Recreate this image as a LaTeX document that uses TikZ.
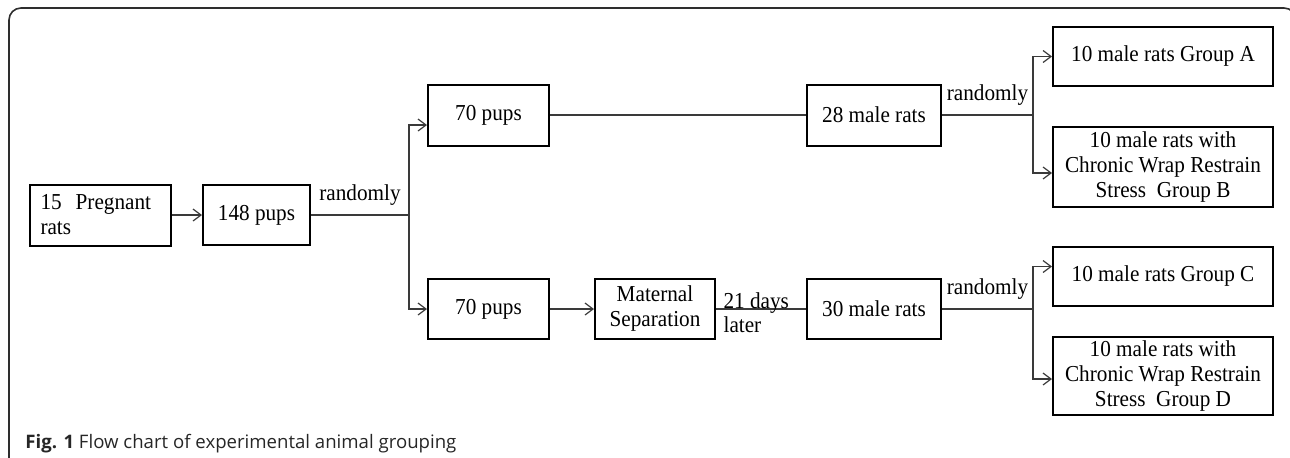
\documentclass[tikz,border=0pt]{standalone}
\usepackage{fontspec}
\setmainfont{Liberation Serif}
\newfontfamily\boxfont[FakeStretch=0.93]{Liberation Serif}
\newfontfamily\capfont{Open Sans}
\usepackage{tikz}
\usetikzlibrary{arrows.meta, positioning, calc}
\definecolor{linegray}{HTML}{3A3A3A}
\definecolor{framegray}{HTML}{2E2E2E}

\begin{document}
\begin{tikzpicture}[x=0.5pt,y=-0.5pt,>={Straight Barb[length=4pt,width=6pt]},node distance=2cm,
	box/.style={rectangle,draw,line width=1pt,align=center,inner sep=2pt,font=\boxfont\fontsize{11.4}{12.5}\selectfont},
	link/.style={draw=linegray,line width=0.6pt},
	tag/.style={font=\boxfont\fontsize{11.4}{12.5}\selectfont,inner sep=4.5pt}]

	\useasboundingbox (0,0) rectangle (1290,457);
	\clip (0,0) rectangle (1290,457);
	\draw[framegray,line width=0.8pt,rounded corners=6pt] (9,8) rectangle (1296,520);

	% left part
	\node[box,minimum width=70.5pt,minimum height=30.5pt,text width=60pt,align=left] (preg) at (100.5,215) {15\hspace{7pt}Pregnant\\rats};
	\node[box,minimum width=53.5pt,minimum height=30pt] (p148) [right of=preg,node distance=78pt] {148 pups};

	% the two litters
	\node[box,minimum width=60.5pt,minimum height=30.5pt] (pupsA) at (488.5,115) {70 pups};
	\node[box,minimum width=60.5pt,minimum height=30pt] (pupsB) [below of=pupsA,node distance=97pt] {70 pups};
	\node[box,minimum width=60pt,minimum height=30pt] (sep) [right of=pupsB,node distance=83.25pt] {Maternal\\Separation};
	\node[box,minimum width=67pt,minimum height=30.5pt] (m28) [right of=pupsA,node distance=192.75pt] {28 male rats};
	\node[box,minimum width=67pt,minimum height=30pt] (m30) [right of=sep,node distance=109.5pt] {30 male rats};

	% groups
	\node[box,minimum width=110pt,minimum height=29.5pt] (gA) at (1163,56.5) {10 male rats Group A};
	\node[box,minimum width=110pt,minimum height=40pt] (gB) [below of=gA,node distance=55.25pt] {10 male rats with\\Chronic Wrap Restrain\\Stress\ \ Group B};
	\node[box,minimum width=110pt,minimum height=29.5pt] (gC) [below of=gB,node distance=54.75pt] {10 male rats Group C};
	\node[box,minimum width=110pt,minimum height=37pt] (gD) [below of=gC,node distance=49.75pt] {10 male rats with\\Chronic Wrap Restrain\\Stress\ \ Group D};

	\coordinate (jm) at (409,215);
	\coordinate (jt) at (1033,115);
	\coordinate (jb) at (1033,309);

	\draw[link,->] (preg) -- (p148);
	\draw[link] (p148) -- node[tag,above]{randomly} (jm);
	\draw[link,->] (jm) |- ([yshift=-5pt]pupsA.west);
	\draw[link,->] (jm) |- (pupsB);
	\draw[link] (pupsA) -- (m28);
	\draw[link,->] (pupsB) -- (sep);
	\draw[link] (sep) -- node[tag,pos=0,anchor=west,align=left,inner sep=3.5pt,yshift=-2pt,font=\boxfont\fontsize{11.4}{12}\selectfont]{21 days\\later} (m30);

	\draw[link] (m28) -- node[tag,above]{randomly} (jt);
	\draw[link,->] (jt) |- (gA);
	\draw[link,->] (jt) |- ([yshift=-3pt]gB.west);
	\draw[link] (m30) -- node[tag,above]{randomly} (jb);
	\draw[link,->] (jb) |- ([yshift=5pt]gC.west);
	\draw[link,->] (jb) |- ([yshift=-1.5pt]gD.west);

	\node[anchor=base west,inner sep=0pt,font=\capfont\fontsize{9.3}{11}\selectfont,text=black!85] (cap) at (25,448) {\textbf{Fig. 1} Flow chart of experimental animal grouping};
\end{tikzpicture}
\end{document}
